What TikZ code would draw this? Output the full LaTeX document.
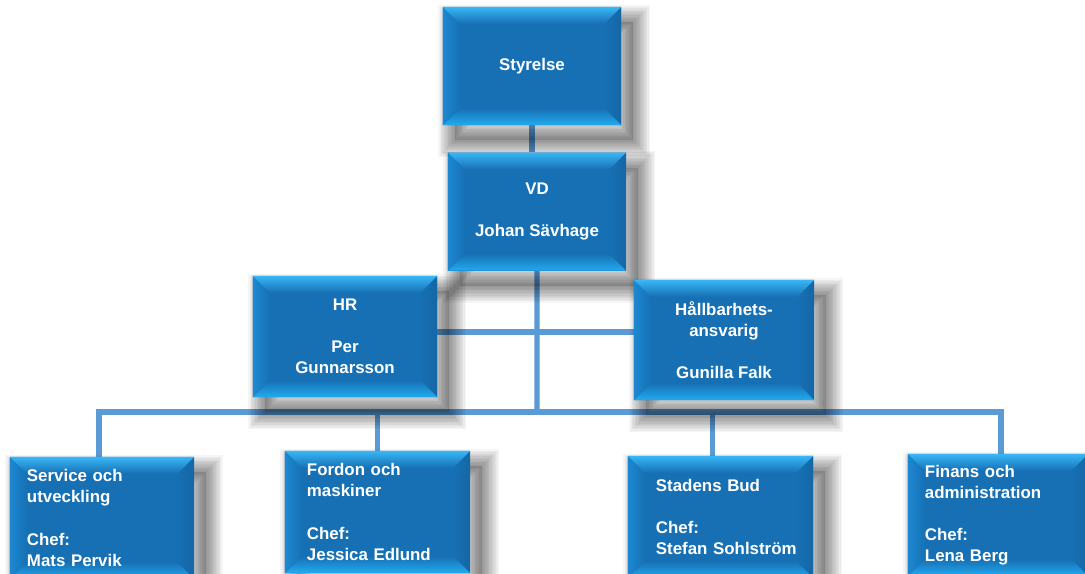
\documentclass[tikz,border=0pt]{standalone}
\usepackage{fontspec}
\setmainfont{Liberation Sans}
\usetikzlibrary{positioning,backgrounds}
\definecolor{boxmid}{RGB}{23,112,180}
\definecolor{bevtop}{RGB}{56,182,245}
\definecolor{bevbot}{RGB}{34,170,240}
\definecolor{bevleft}{RGB}{28,136,210}
\definecolor{linkcolor}{RGB}{91,155,213}
\newcommand{\bevw}{0.42cm}

\tikzset{
  blur/.style={preaction={draw=black, line width=#1, opacity=0.038, transform canvas={shift={(0.3cm,-0.38cm)}}}},
  shadowed/.style={
    preaction={fill=black, opacity=0.12, transform canvas={shift={(0.3cm,-0.38cm)}}},
    blur=2pt, blur=4pt, blur=6pt, blur=8pt, blur=10pt, blur=12pt,
    blur=14pt, blur=16pt, blur=18pt, blur=20pt, blur=22pt, blur=24pt
  },
  bevel/.style={path picture={
    \path (path picture bounding box.north west) coordinate (pnw)
          (path picture bounding box.north east) coordinate (pne)
          (path picture bounding box.south west) coordinate (psw)
          (path picture bounding box.south east) coordinate (pse);
    \fill[left color=bevleft, right color=boxmid] (pnw) -- ([shift={(\bevw,-\bevw)}]pnw) -- ([shift={(\bevw,\bevw)}]psw) -- (psw) -- cycle;
    \fill[left color=boxmid, right color=boxmid!92!black] (pne) -- ([shift={(-\bevw,-\bevw)}]pne) -- ([shift={(-\bevw,\bevw)}]pse) -- (pse) -- cycle;
    \fill[top color=bevtop, bottom color=boxmid] (pnw) -- (pne) -- ([shift={(-\bevw,-\bevw)}]pne) -- ([shift={(\bevw,-\bevw)}]pnw) -- cycle;
    \fill[top color=boxmid, bottom color=bevbot] (psw) -- (pse) -- ([shift={(-\bevw,\bevw)}]pse) -- ([shift={(\bevw,\bevw)}]psw) -- cycle;
  }},
  box/.style={rectangle, fill=boxmid, shadowed, bevel, text=white, inner sep=0pt,
    font=\bfseries\fontsize{12}{15}\selectfont, align=center},
  unitbox/.style={box, minimum height=3.05cm, text width=#1, align=left},
  link/.style={draw=linkcolor, line width=3.6pt}
}

\begin{document}
\begin{tikzpicture}[x=0.025cm, y=-0.025cm]
\useasboundingbox (0,0) rectangle (1085,573);

% ledning
\node[box, minimum width=4.45cm, minimum height=2.95cm] (sty) at (532,66) {Styrelse};
\node[box, minimum width=4.45cm, minimum height=2.95cm, below=0.675cm of sty, xshift=0.125cm] (vd) {VD\\[15pt]Johan Sävhage};
\node[box, minimum width=4.6cm, minimum height=3.025cm] (hr) at (345,336.5) {HR\\[15pt]Per\\Gunnarsson};
\node[box, minimum width=4.5cm, minimum height=3cm] (hall) at (724,340) {Hållbarhets-\\ansvarig\\[15pt]Gunilla Falk};

% enheter
\node[unitbox=3.75cm, minimum width=4.6cm] (svc) at (102,518) {Service och\\utveckling\\[15pt]Chef:\\Mats Pervik};
\node[unitbox=3.525cm, minimum width=4.625cm] (ford) at (377.5,512) {Fordon och\\maskiner\\[15pt]Chef:\\Jessica Edlund};
\node[unitbox=3.225cm, minimum width=4.625cm] (stad) at (720.5,517) {Stadens Bud\\[15pt]Chef:\\Stefan~Sohlström};
\node[unitbox=3.65cm, minimum width=4.5cm] (fin) at (998,515) {Finans och\\administration\\[15pt]Chef:\\Lena Berg};

\begin{scope}[on background layer]
\fill[white] (0,0) rectangle (1085,573);
\coordinate (bus) at (537,412);
\coordinate (mid) at (537,332);
\draw[link] (sty.south) -- (sty.south |- vd.north);
\draw[link] (vd.south) -- (bus);
\draw[link] (hr.east |- mid) -- (hall.west |- mid);
\draw[link] ([xshift=-0.075cm]svc.north) |- (bus) -| ([xshift=0.075cm]fin.north);
\draw[link] (ford.north) -- (ford.north |- bus);
\draw[link] ([xshift=-0.2cm]stad.north) -- ([xshift=-0.2cm]stad.north |- bus);
\end{scope}
\end{tikzpicture}
\end{document}
